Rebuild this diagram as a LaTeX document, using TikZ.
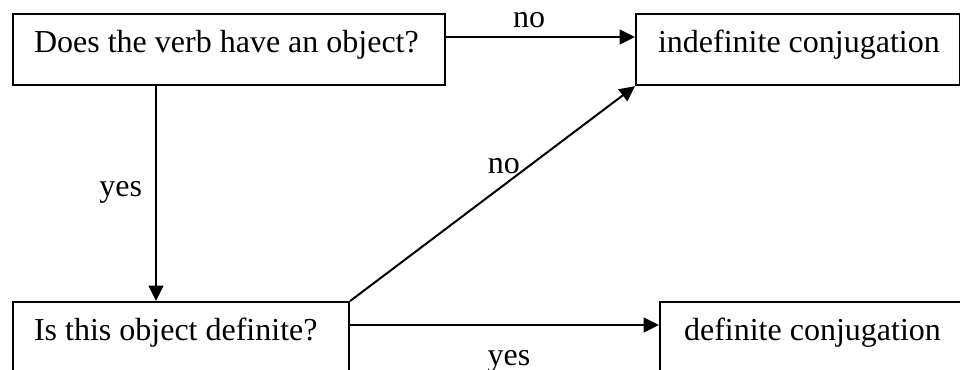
\documentclass[tikz,border=0pt]{standalone}
\usepackage{fontspec}
\setmainfont{Liberation Serif}
\usetikzlibrary{arrows.meta,calc}
\begin{document}
\begin{tikzpicture}[x=0.75pt,y=-0.75pt,
  box/.style={draw,line width=1.6pt,rectangle,anchor=north west,minimum height=53.25pt,
    inner xsep=0pt,inner ysep=0pt,align=flush left,text height=14pt,text depth=9.25pt,
    font=\fontsize{24}{28}\selectfont},
  arr/.style={line width=1.5pt,-{Triangle[length=11.5pt,width=11pt]}},
  lbl/.style={font=\fontsize{24}{28}\selectfont,inner sep=0pt,anchor=base}]
\useasboundingbox (0,0) rectangle (960,369);
\clip (0,0) rectangle (960,369);
\node[box,text width=324pt] (q1) at (12,13) {\hspace*{15.75pt}Does the verb have an object?};
\node[box,text width=243pt] (indef) at (635,13) {\hspace*{16.5pt}indefinite conjugation};
\node[box,text width=252pt] (q2) at (12,301) {\hspace*{15.75pt}Is this object definite?};
\node[box,text width=243pt] (def) at (659,301) {\hspace*{18pt}definite conjugation};
\draw[arr] ($(q1.north east)+(0,24)$) -- ($(indef.north west)+(0,24)$)
  node[lbl,pos=0.44,yshift=7.5pt] {no};
\draw[arr] ($(q1.south west)+(144,0)$) coordinate (a) -- (a |- q2.north)
  node[lbl,pos=0.5,anchor=base east,xshift=-9.75pt,yshift=-1.9pt] {yes};
\draw[arr] (q2.north east) -- (indef.south west)
  node[lbl,pos=0.54,yshift=8.9pt] {no};
\draw[arr] ($(q2.north east)+(0,24)$) -- ($(def.north west)+(0,24)$)
  node[lbl,pos=0.514,yshift=-30pt] {yes};
\end{tikzpicture}
\end{document}
